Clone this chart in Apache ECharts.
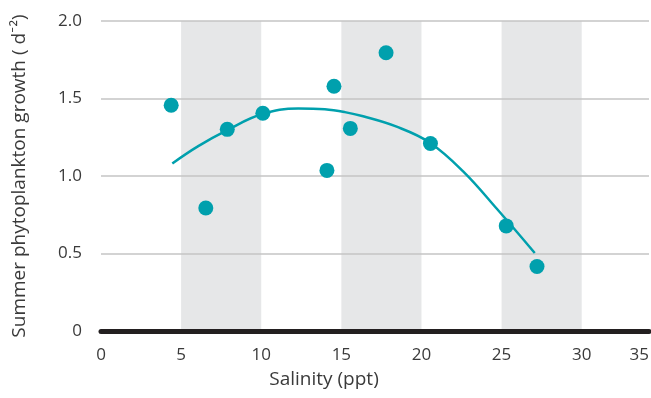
<!DOCTYPE html>
<html>
<head>
<meta charset="utf-8">
<script src="https://cdn.jsdelivr.net/npm/echarts@6/dist/echarts.min.js"></script>
<style>
  html, body { margin: 0; padding: 0; background: #fff; }
  #chart { width: 651px; height: 398px; }
</style>
</head>
<body>
<div id="chart"></div>
<script>
// salinity (ppt) / growth readings
var salinity = [4.38, 6.54, 7.88, 10.1, 14.1, 14.54, 15.56, 17.79, 20.56, 25.29, 27.21];
var growth = [1.456, 0.794, 1.301, 1.405, 1.036, 1.579, 1.307, 1.795, 1.21, 0.678, 0.416];

// fitted curve
var fitX = [4.45, 6.07, 7.88, 10.02, 12.31, 13.97, 15.22, 16.36, 18.45, 20.52, 22.6, 24.69, 27.07];
var fitY = [1.081, 1.193, 1.296, 1.398, 1.435, 1.43, 1.412, 1.385, 1.318, 1.215, 1.03, 0.79, 0.503];

// shaded salinity bands
var bandStart = [5, 15, 25];
var bandEnd = [10, 20, 30];

var xTickLabels = ['0', '5', '10', '15', '20', '25', '30', '35'];

var teal = '#00a0ad';
var textColor = '#3a3a3a';
var font = '"Open Sans", Lato, sans-serif';

var points = salinity.map(function (x, i) { return [x, growth[i]]; });
var curve = fitX.map(function (x, i) { return [x, fitY[i]]; });
var bands = bandStart.map(function (s, i) { return [{ xAxis: s }, { xAxis: bandEnd[i] }]; });

var myChart = echarts.init(document.getElementById('chart'));
myChart.setOption({
  animation: false,
  backgroundColor: '#ffffff',
  grid: { left: 101, right: 2, top: 21, bottom: 67, outerBoundsMode: 'none', containLabel: false },
  xAxis: {
    type: 'value',
    min: 0,
    max: 34.2,
    interval: 5,
    z: 3,
    name: 'Salinity (ppt)',
    nameLocation: 'middle',
    nameGap: 39,
    nameTextStyle: { fontFamily: font, fontSize: 19, color: textColor, padding: [0, 102, 0, 0] },
    axisLine: { lineStyle: { color: '#231f20', width: 5 } },
    axisTick: { show: false },
    splitLine: { show: false },
    axisLabel: {
      margin: 16,
      fontFamily: font,
      fontSize: 17,
      color: textColor,
      showMaxLabel: true,
      alignMaxLabel: 'right',
      formatter: function (v, idx) { return xTickLabels[idx]; }
    }
  },
  yAxis: {
    type: 'value',
    min: 0,
    max: 2,
    interval: 0.5,
    z: 3,
    name: 'Summer phytoplankton growth ( d⁻²)',
    nameLocation: 'middle',
    nameGap: 72,
    nameTextStyle: { fontFamily: font, fontSize: 19, color: textColor },
    axisLine: { show: false },
    axisTick: { show: false },
    splitLine: { lineStyle: { color: '#c4c4c4', width: 1.5 } },
    axisLabel: {
      margin: 19,
      fontFamily: font,
      fontSize: 17,
      color: textColor,
      formatter: function (v) { return v === 0 ? '0' : v.toFixed(1); }
    }
  },
  series: [
    {
      type: 'scatter',
      z: 1,
      data: [],
      markArea: {
        silent: true,
        itemStyle: { color: '#e6e7e8' },
        data: bands
      }
    },
    {
      type: 'line',
      z: 4,
      data: curve,
      smooth: 0.4,
      symbol: 'none',
      lineStyle: { color: teal, width: 2.5 }
    },
    {
      type: 'scatter',
      z: 5,
      data: points,
      symbolSize: 15,
      itemStyle: { color: teal, opacity: 1 }
    }
  ]
});
</script>
</body>
</html>
